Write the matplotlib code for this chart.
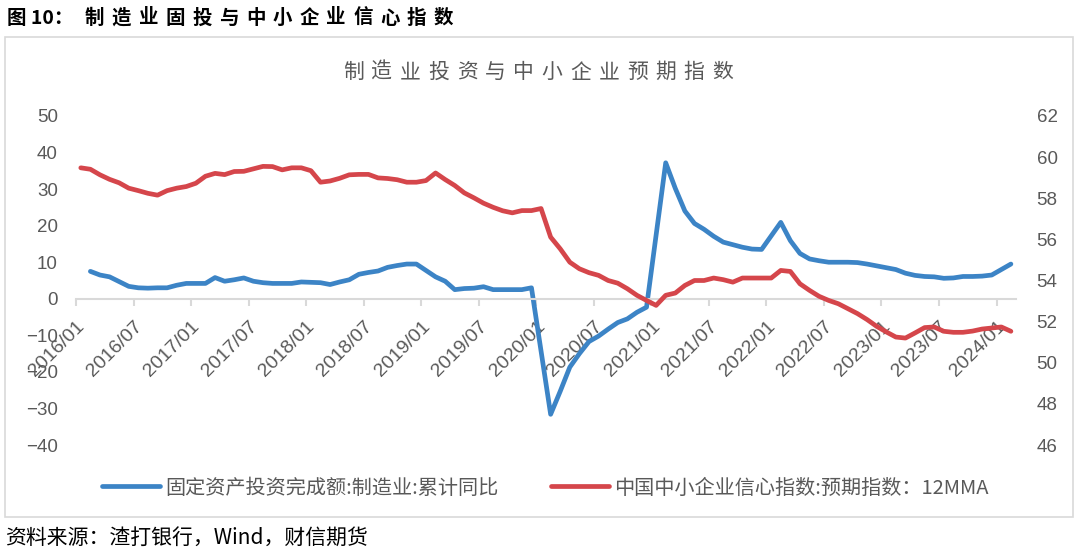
import numpy as np
import matplotlib
matplotlib.use('Agg')
import matplotlib.pyplot as plt
from matplotlib.patches import Rectangle

plt.rcParams['font.family'] = ['Noto Sans CJK SC', 'DejaVu Sans']

nan = np.nan
# monthly, 2016/01 .. 2024/02 (January values not published for the cumulative series)
start_year, start_month, n_months = 2016, 1, 98
fai_mfg = [nan, 7.5, 6.5, 6.0, 4.7, 3.4, 3.0, 2.9, 3.0, 3.0, 3.7, 4.2,
           nan, 4.2, 5.8, 4.8, 5.2, 5.7, 4.8, 4.4, 4.2, 4.2, 4.2, 4.6,
           nan, 4.4, 3.9, 4.6, 5.2, 6.7, 7.2, 7.6, 8.6, 9.1, 9.5, 9.5,
           nan, 6.0, 4.8, 2.5, 2.8, 2.9, 3.3, 2.5, 2.5, 2.5, 2.5, 3.0,
           nan, -31.6, -25.3, -18.7, -15.0, -11.7, -10.2, -8.3, -6.5, -5.5, -3.7, -2.3,
           nan, 37.2, 30.2, 24.0, 20.6, 19.0, 17.1, 15.5, 14.8, 14.1, 13.6, 13.5,
           nan, 20.9, 15.9, 12.4, 10.9, 10.4, 10.0, 10.0, 10.0, 9.9, 9.5, 9.0,
           nan, 8.0, 7.0, 6.4, 6.1, 6.0, 5.6, 5.7, 6.1, 6.1, 6.2, 6.5,
           nan, 9.5]
sme_expect = [59.48, 59.41, 59.14, 58.92, 58.75, 58.49, 58.37, 58.24, 58.15, 58.37, 58.49, 58.57,
              58.73, 59.07, 59.21, 59.15, 59.30, 59.31, 59.43, 59.55, 59.54, 59.38, 59.48, 59.48,
              59.34, 58.78, 58.84, 58.97, 59.14, 59.16, 59.16, 58.99, 58.96, 58.90, 58.78, 58.78,
              58.86, 59.23, 58.91, 58.62, 58.26, 58.02, 57.76, 57.56, 57.39, 57.29, 57.40, 57.40,
              57.50, 56.11, 55.54, 54.89, 54.57, 54.38, 54.25, 54.00, 53.87, 53.60, 53.28, 53.03,
              52.79, 53.28, 53.39, 53.76, 54.00, 54.00, 54.12, 54.04, 53.92, 54.12, 54.12, 54.12,
              54.12, 54.49, 54.44, 53.84, 53.52, 53.23, 53.03, 52.87, 52.63, 52.39, 52.10, 51.77,
              51.50, 51.25, 51.20, 51.45, 51.71, 51.74, 51.53, 51.48, 51.48, 51.54, 51.64, 51.69,
              51.74, 51.53]
labels = ['%d/%02d' % (start_year + (start_month - 1 + m) // 12, (start_month - 1 + m) % 12 + 1)
          for m in range(n_months)]

blue = '#3C84C6'
red = '#D5464B'
grey_txt = '#595959'
W, H = 1080, 553

fig = plt.figure(figsize=(W / 100, H / 100), dpi=100)
ax = fig.add_axes([76 / W, 1 - 445 / H, (1015.7 - 76) / W, (445 - 116) / H])
ax2 = ax.twinx()

x = np.arange(n_months)
fai = np.array(fai_mfg, dtype=float)
ok = ~np.isnan(fai)
l1, = ax.plot(x[ok], fai[ok], color=blue, lw=3.4, solid_capstyle='round', solid_joinstyle='round')
l2, = ax2.plot(x, sme_expect, color=red, lw=3.4, solid_capstyle='round', solid_joinstyle='round')

ax.set_xlim(-0.5, n_months - 0.5)
ax.set_ylim(-40, 50)
ax.set_yticks(np.arange(-40, 51, 10))
ax2.set_ylim(46, 62)
ax2.set_yticks(np.arange(46, 63, 2))

ticks = np.arange(0, n_months, 6)
ax.set_xticks(ticks - 0.5)
ax.set_xticklabels([labels[i] for i in ticks])

for a in (ax, ax2):
    for s in a.spines.values():
        s.set_visible(False)
ax.spines['bottom'].set_visible(True)
ax.spines['bottom'].set_position(('data', 0))
ax.spines['bottom'].set_color('#D9D9D9')
ax.spines['bottom'].set_linewidth(1.5)

ax.tick_params(axis='x', length=5, width=1.5, color='#D9D9D9', pad=9,
               labelsize=14, labelcolor=grey_txt)
for lbl in ax.get_xticklabels():
    lbl.set_rotation(45)
    lbl.set_ha('right')
    lbl.set_rotation_mode('anchor')
    lbl.set_fontfamily('Liberation Sans')
ax.tick_params(axis='y', length=0, pad=13, labelsize=13.5, labelcolor=grey_txt)
ax2.tick_params(axis='y', length=0, pad=15, labelsize=13.5, labelcolor=grey_txt)
for lbl in ax.get_yticklabels() + ax2.get_yticklabels():
    lbl.set_fontfamily('Liberation Sans')


def spaced(x0, y, s, step, **kw):
    # draw characters one by one to get the wide letter spacing of the original
    for k, ch in enumerate(s):
        fig.text((x0 + k * step) / W, 1 - y / H, ch, va='center', **kw)


# figure caption
fig.text(7 / W, 1 - 18 / H, '图 10：', va='center', fontsize=14, fontweight='bold')
spaced(85, 18, '制造业固投与中小企业信心指数', 26.8, fontsize=14, fontweight='bold')

# chart title
spaced(343, 72, '制造业投资与中小企业预期指数', 28.4, fontsize=15, color=grey_txt)

fig.legend([l1, l2], ['固定资产投资完成额:制造业:累计同比', '中国中小企业信心指数:预期指数：12MMA'],
           loc='center', bbox_to_anchor=(545 / W, 1 - 488 / H), ncol=2, frameon=False,
           fontsize=14.5, labelcolor=grey_txt, handlelength=2.9, handletextpad=0.25,
           columnspacing=2.6)

fig.patches.append(Rectangle((5 / W, 1 - 517 / H), 1068 / W, 480 / H, transform=fig.transFigure,
                             fill=False, edgecolor='#D9D9D9', lw=1.2))

fig.text(5 / W, 1 - 538 / H, '资料来源：渣打银行，Wind，财信期货', va='center', fontsize=15)

fig.savefig('out.png', dpi=100)
